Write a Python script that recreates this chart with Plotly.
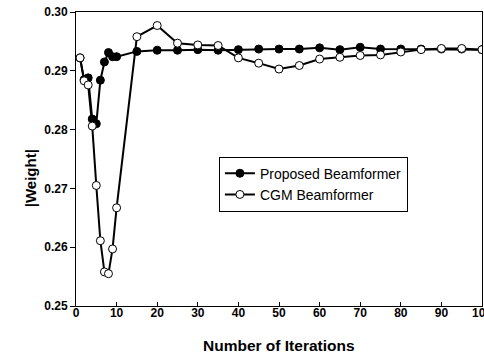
import plotly.graph_objects as go

iters_p = [1, 2, 3, 4, 5, 6, 7, 8, 9, 10, 15, 20, 25, 30, 35, 40, 45, 50, 55, 60, 65, 70, 75, 80, 85, 90, 95, 100]
weight_p = [0.2922, 0.2885, 0.2888, 0.2818, 0.2810, 0.2884, 0.2915, 0.2931, 0.2924, 0.2924,
            0.2933, 0.2935, 0.2935, 0.2936, 0.2935, 0.2936, 0.2937, 0.2937, 0.2937, 0.2939,
            0.2936, 0.2940, 0.2937, 0.2937, 0.2937, 0.2937, 0.2937, 0.2936]

iters_c = [1, 2, 3, 4, 5, 6, 7, 8, 9, 10, 15, 20, 25, 30, 35, 40, 45, 50, 55, 60, 65, 70, 75, 80, 85, 90, 95, 100]
weight_c = [0.2922, 0.2883, 0.2876, 0.2806, 0.2705, 0.2611, 0.2558, 0.2555, 0.2597, 0.2667,
            0.2958, 0.2977, 0.2947, 0.2944, 0.2943, 0.2922, 0.2913, 0.2903, 0.2909, 0.2920,
            0.2923, 0.2926, 0.2927, 0.2932, 0.2936, 0.2938, 0.2938, 0.2936]

x_ticks = [0, 10, 20, 30, 40, 50, 60, 70, 80, 90, 100]
y_ticks = [0.25, 0.26, 0.27, 0.28, 0.29, 0.30]

FONT = "Liberation Sans, Arial, sans-serif"

fig = go.Figure()
fig.add_trace(go.Scatter(
    x=iters_p, y=weight_p, mode="lines+markers", name="Proposed Beamformer",
    line=dict(color="black", width=2),
    marker=dict(symbol="circle", size=8, color="black", line=dict(color="black", width=1)),
))
fig.add_trace(go.Scatter(
    x=iters_c, y=weight_c, mode="lines+markers", name="CGM Beamformer",
    line=dict(color="black", width=2),
    marker=dict(symbol="circle", size=8, color="white", line=dict(color="black", width=1)),
))

fig.update_layout(
    width=484, height=358,
    margin=dict(l=76, r=2, t=12, b=52, autoexpand=False),
    paper_bgcolor="white", plot_bgcolor="white",
    font=dict(family=FONT, color="black"),
    showlegend=True,
    legend=dict(
        x=0.352, y=0.508, xanchor="left", yanchor="top",
        bgcolor="white", bordercolor="black", borderwidth=1,
        font=dict(family=FONT, size=14, color="black"),
        itemwidth=30, tracegroupgap=0,
    ),
    xaxis=dict(
        range=[0, 100], tickvals=x_ticks, ticktext=[str(v) for v in x_ticks],
        ticks="inside", ticklen=4, tickwidth=1, tickcolor="black",
        showline=True, linecolor="black", linewidth=1, mirror=True,
        showgrid=False, zeroline=False, automargin=False,
        ticklabeloverflow="allow", ticklabelstandoff=-4,
        tickfont=dict(family=FONT, size=12, color="black", weight="bold"),
    ),
    yaxis=dict(
        range=[0.25, 0.30], tickvals=y_ticks, ticktext=["%.2f" % v for v in y_ticks],
        ticks="outside", ticklen=5, tickwidth=1, tickcolor="black",
        showline=True, linecolor="black", linewidth=1, mirror=True,
        showgrid=False, zeroline=False, automargin=False,
        ticklabeloverflow="allow",
        tickfont=dict(family=FONT, size=12, color="black", weight="bold"),
    ),
    annotations=[
        dict(text="<b>Number of Iterations</b>", xref="paper", yref="paper",
             x=0.5, y=-0.133, xanchor="center", yanchor="middle", showarrow=False,
             font=dict(family=FONT, size=15.5, color="black")),
        dict(text="<b>|Weight|</b>", xref="paper", yref="paper", textangle=-90,
             x=-0.113, y=0.435, xanchor="center", yanchor="middle", showarrow=False,
             font=dict(family=FONT, size=15, color="black")),
    ],
)

fig.write_html("out.html")
